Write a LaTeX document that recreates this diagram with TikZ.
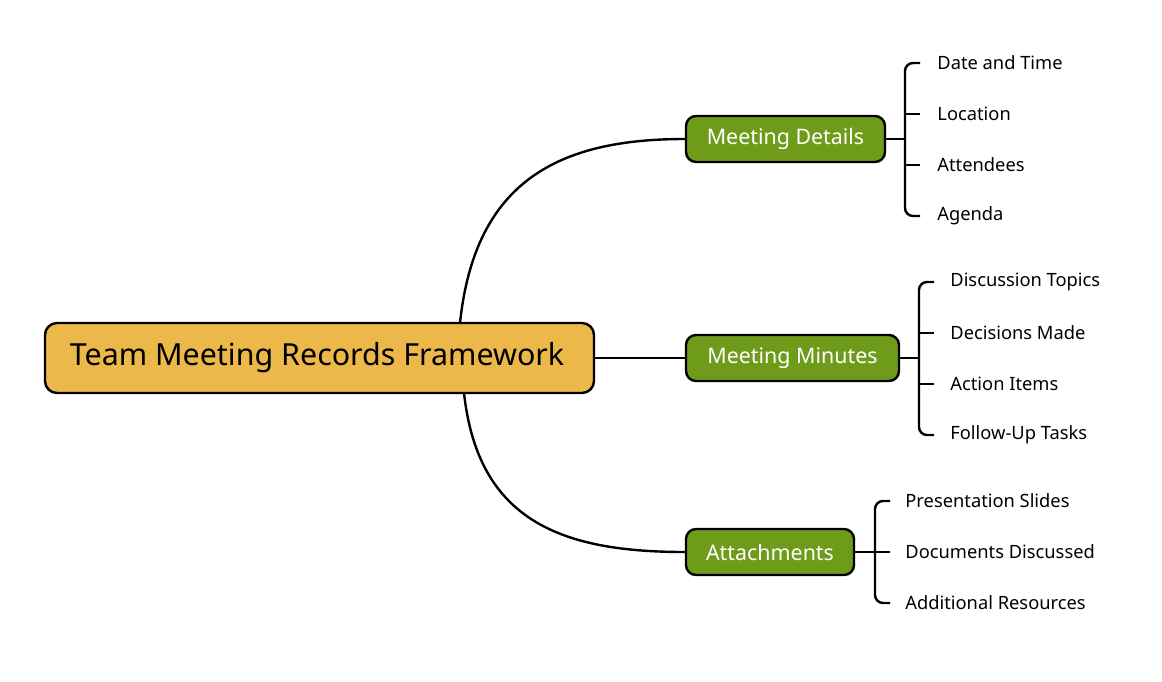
\documentclass[tikz,border=0pt]{standalone}
\usepackage{fontspec}
\setmainfont{Noto Sans}
\definecolor{rootc}{HTML}{EDB84A}
\definecolor{grn}{HTML}{6E9C1A}
\begin{document}
\begin{tikzpicture}[x=0.5pt,y=-0.5pt,
  root/.style={draw=black,line width=1.2pt,fill=rootc,rounded corners=6pt,minimum width=274.5pt,minimum height=35pt,font=\fontsize{15.2}{17}\selectfont},
  sub/.style={draw=black,line width=1.2pt,fill=grn,text=white,rounded corners=5pt,minimum height=23pt,inner xsep=8pt,font=\fontsize{10.7}{12}\selectfont},
  leaf/.style={anchor=west,inner sep=0pt,font=\fontsize{9.15}{10}\selectfont},
  conn/.style={line width=1.2pt},
  br/.style={line width=1.2pt,rounded corners=4pt}]
\useasboundingbox (0,0) rectangle (1162,681);
\node[root] (r) at (319.5,358) {};
\node at (317,358) [font=\fontsize{15.2}{17}\selectfont] (rl) {Team Meeting Records Framework};
\node[sub,minimum width=99.5pt] (d) at (785.5,139) {Meeting Details};
\node[sub,minimum width=106.5pt] (m) at (792.5,358) {Meeting Minutes};
\node[sub,minimum width=84pt] (a) at (770,552) {Attachments};
\coordinate (rt) at (460,323);
\coordinate (rb) at (464,393);
\draw[conn] (rt) .. controls (475,180) and (560,139) .. (d.west);
\draw[conn] (rb) .. controls (478,520) and (560,552) .. (a.west);
\draw[conn] (r.east) -- (m.west);
% details
\foreach \t [count=\i] in {Date and Time,Location,Attendees,Agenda}
  \node[leaf] (d\i) at (937,{12+51*\i}) {\t};
\coordinate (dj) at (905,139);
\draw[conn] (d.east) -- (dj);
\draw[br] (920,63) -- (905,63) -- (905,216) -- (920,216);
\draw[br] (905,114) -- (920,114) (905,165) -- (920,165);
% minutes
\foreach \t [count=\i] in {Discussion Topics,Decisions Made,Action Items,Follow-Up Tasks}
  \node[leaf] (m\i) at (950,{231+51*\i}) {\t};
\coordinate (mj) at (919,358);
\draw[conn] (m.east) -- (mj);
\draw[br] (934,282) -- (919,282) -- (919,435) -- (934,435);
\draw[br] (919,333) -- (934,333) (919,384) -- (934,384);
% attachments
\foreach \t [count=\i] in {Presentation Slides,Documents Discussed,Additional Resources}
  \node[leaf] (a\i) at (905,{450+51*\i}) {\t};
\coordinate (aj) at (875,552);
\draw[conn] (a.east) -- (aj);
\draw[br] (890,501) -- (875,501) -- (875,603) -- (890,603);
\draw[br] (875,552) -- (890,552);
\end{tikzpicture}
\end{document}
